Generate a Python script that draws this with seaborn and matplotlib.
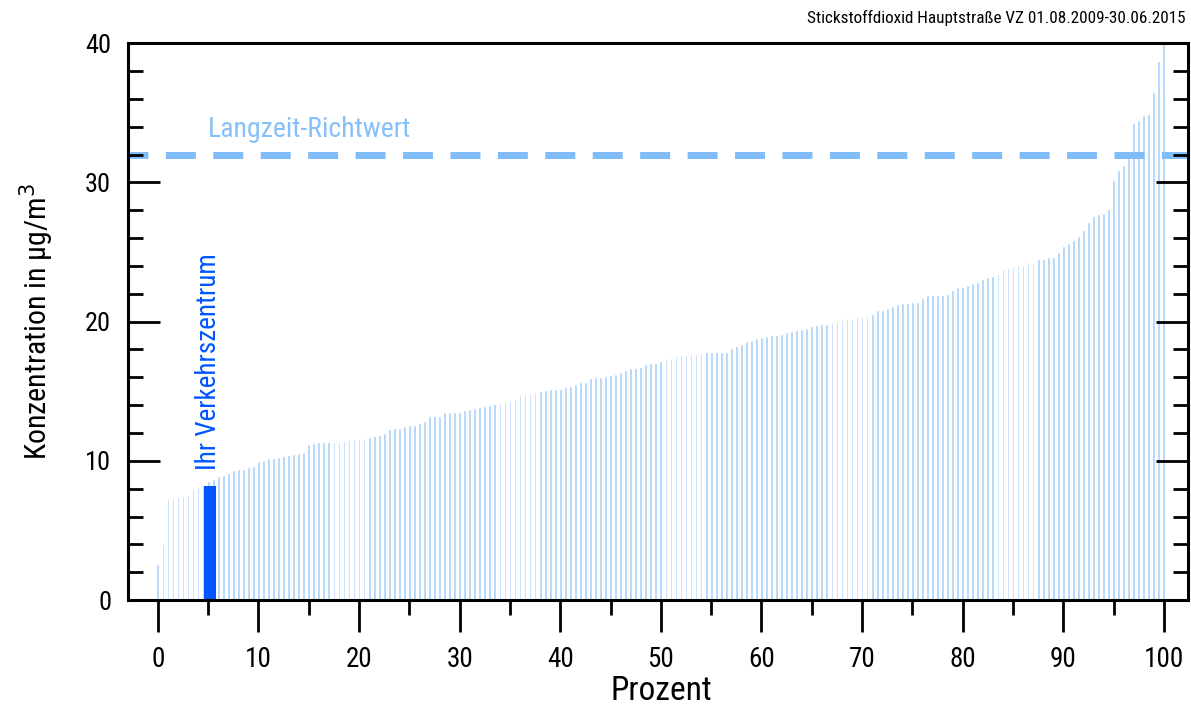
#!/usr/bin/env python3
"""
Percentile chart of NO2 concentrations (Hauptstrasse VZ), saved to out.png.
"""

import matplotlib
matplotlib.use('Agg')
import matplotlib.pyplot as plt
from matplotlib import font_manager
from matplotlib.ticker import MultipleLocator
import seaborn as sns

# percentile steps 0, 0.5, ..., 100
percent = [i * 0.5 for i in range(201)]
konzentration = [
    2.6, 4.0, 7.25, 7.35, 7.4, 7.45, 7.55, 7.95, 8.1, 8.25,
    8.55, 8.7, 8.9, 8.95, 9.15, 9.35, 9.4, 9.42, 9.55, 9.6,
    10.0, 10.07, 10.18, 10.22, 10.3, 10.36, 10.41, 10.46, 10.53, 10.6,
    11.22, 11.3, 11.32, 11.34, 11.36, 11.38, 11.38, 11.46, 11.58, 11.6,
    11.6, 11.65, 11.7, 11.8, 11.89, 11.99, 12.3, 12.33, 12.37, 12.5,
    12.61, 12.61, 12.71, 12.85, 13.19, 13.24, 13.24, 13.48, 13.48, 13.53,
    13.53, 13.62, 13.72, 13.81, 13.86, 13.91, 14.0, 14.05, 14.15, 14.24,
    14.34, 14.44, 14.72, 14.8, 14.82, 14.94, 15.04, 15.11, 15.13, 15.13,
    15.18, 15.3, 15.4, 15.49, 15.64, 15.64, 15.95, 15.99, 16.04, 16.06,
    16.16, 16.24, 16.38, 16.52, 16.67, 16.67, 16.74, 16.93, 17.0, 17.05,
    17.15, 17.32, 17.36, 17.55, 17.63, 17.63, 17.67, 17.68, 17.7, 17.82,
    17.84, 17.84, 17.84, 17.84, 18.1, 18.27, 18.42, 18.63, 18.7, 18.85,
    18.9, 18.94, 19.04, 19.04, 19.09, 19.23, 19.3, 19.42, 19.5, 19.54,
    19.66, 19.75, 19.83, 19.83, 19.93, 20.07, 20.12, 20.24, 20.24, 20.31,
    20.34, 20.43, 20.55, 20.86, 20.86, 20.96, 21.15, 21.29, 21.34, 21.34,
    21.39, 21.44, 21.7, 21.9, 21.91, 21.92, 21.92, 21.99, 22.28, 22.47,
    22.49, 22.66, 22.8, 22.83, 23.07, 23.22, 23.29, 23.4, 23.79, 23.86,
    23.96, 24.05, 24.08, 24.12, 24.2, 24.48, 24.48, 24.65, 24.65, 25.01,
    25.47, 25.66, 25.9, 26.12, 26.6, 27.15, 27.58, 27.7, 27.8, 28.08,
    30.15, 30.86, 31.25, 32.0, 34.3, 34.5, 34.87, 34.95, 36.5, 38.7,
    40.0,
]

# highlighted station ("Ihr Verkehrszentrum")
station_percent = 5.2
station_value = 8.2
station_label = 'Ihr Verkehrszentrum'

richtwert = 32
richtwert_label = 'Langzeit-Richtwert'

title = 'Stickstoffdioxid Hauptstraße VZ 01.08.2009-30.06.2015'

LIGHT = '#a9d0fb'
DASH = '#80bcf8'
BLUE = '#0055ff'


def pick_font():
    # prefer a narrow face like the original; fall back to Liberation Sans
    fonts = font_manager.fontManager.ttflist
    names = {f.name for f in fonts}
    for name in ['Liberation Sans Narrow', 'DejaVu Sans Condensed',
                 'Roboto Condensed', 'Open Sans Condensed']:
        if name in names:
            return name, 'normal'
    if any(f.name == 'DejaVu Sans' and f.stretch == 'condensed' for f in fonts):
        return 'DejaVu Sans', 'condensed'
    return 'Liberation Sans', 'normal'


def main():
    sns.set_style('ticks')
    family, stretch = pick_font()
    plt.rcParams['font.family'] = [family, 'DejaVu Sans']
    plt.rcParams['font.stretch'] = stretch
    plt.rcParams['text.color'] = 'black'
    plt.rcParams['axes.labelcolor'] = 'black'

    fig = plt.figure(figsize=(11.91, 7.07), dpi=100)
    ax = fig.add_axes([0.1072, 0.1513, 0.8903, 0.7875])
    ax.set_axisbelow(False)

    sns.barplot(x=percent, y=konzentration, native_scale=True, color=LIGHT,
                saturation=1, width=0.55, errorbar=None, ax=ax, zorder=2)
    ax.bar(station_percent, station_value, width=1.2, color=BLUE,
           linewidth=0, zorder=2.2)

    ax.axhline(richtwert, color=DASH, lw=5, zorder=2.4,
               linestyle=(1.45, (4.32, 2.51)), dash_capstyle='butt')
    ax.text(5, 33.3, richtwert_label, color='#86c0f8',
            fontsize=20, ha='left', va='baseline')
    ax.text(5.0, 9.35, station_label, color=BLUE, fontsize=19.5,
            rotation=90, ha='center', va='bottom')

    ax.set_xlim(-3.0, 102.4)
    ax.set_ylim(0, 40)
    ax.xaxis.set_major_locator(MultipleLocator(10))
    ax.xaxis.set_minor_locator(MultipleLocator(5))
    ax.yaxis.set_major_locator(MultipleLocator(10))
    ax.yaxis.set_minor_locator(MultipleLocator(2))
    ax.set_xticks(range(0, 101, 10))
    ax.set_xticklabels([str(v) for v in range(0, 101, 10)])

    for side in ['left', 'right', 'top', 'bottom']:
        ax.spines[side].set_visible(True)
        ax.spines[side].set_linewidth(2.2)
        ax.spines[side].set_color('black')

    ax.tick_params(axis='both', which='both', color='black', labelcolor='black')
    ax.tick_params(axis='x', which='major', direction='out', length=23,
                   width=2.0, pad=10, labelsize=19.5, top=False)
    ax.tick_params(axis='x', which='minor', direction='out', length=11,
                   width=2.0, top=False)
    ax.tick_params(axis='y', which='major', direction='in', length=23,
                   width=2.0, pad=12, labelsize=19, left=True, right=True)
    ax.tick_params(axis='y', which='minor', direction='in', length=11,
                   width=2.0, left=True, right=True)

    ax.set_xlabel('Prozent', fontsize=24)
    ax.xaxis.set_label_coords(0.503, -0.135)
    ax.set_ylabel('Konzentration in µg/m$^3$', fontsize=21.5)
    ax.yaxis.set_label_coords(-0.068, 0.5)

    fig.text(0.9958, 1 - 18 / 707, title, fontsize=12.3, ha='right', va='center')

    fig.savefig('out.png', dpi=100)
    plt.close(fig)


if __name__ == '__main__':
    main()
